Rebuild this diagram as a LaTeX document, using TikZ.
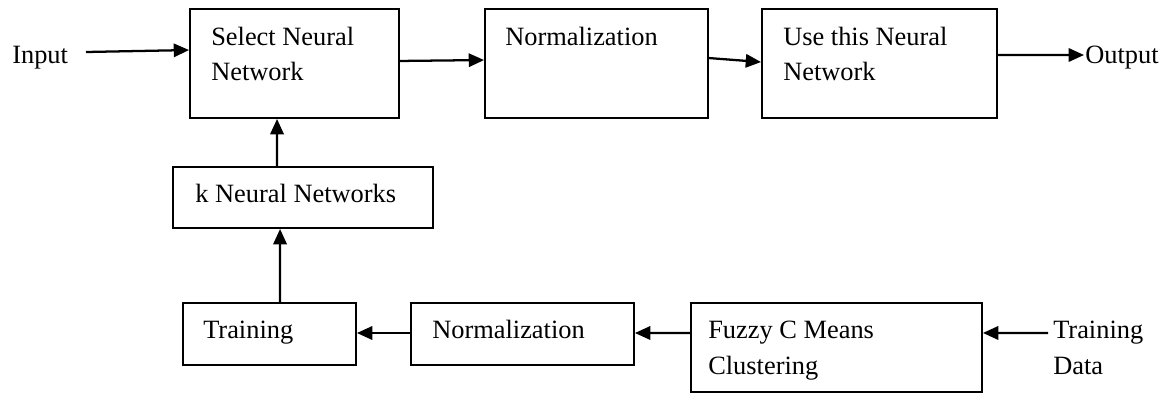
\documentclass[tikz,border=0pt]{standalone}
\usepackage{fontspec}
\setmainfont{Liberation Serif}
\usetikzlibrary{arrows.meta,fit}
\tikzset{
  box/.style={draw=black, line width=1.4pt, inner sep=0pt, rectangle},
  lbl/.style={anchor=base west, inner sep=0pt, font=\fontsize{19.8pt}{24pt}\selectfont},
  arr/.style={line width=1.7pt, -{Triangle[length=11.5pt,width=10pt]}},
}
\begin{document}
\begin{tikzpicture}[x=0.75pt,y=-0.75pt]
\useasboundingbox (0,0) rectangle (1161,394);
% boxes
\node[box, fit={(190,9) (399,118)}] (sel) {};
\node[box, fit={(485,9) (708,118)}] (nor1) {};
\node[box, fit={(762,9) (997,118)}] (use) {};
\node[box, fit={(173,167) (433,228)}] (knn) {};
\node[box, fit={(183,303) (356,365)}] (trn) {};
\node[box, fit={(411,303) (634,365)}] (nor2) {};
\node[box, fit={(691,303) (982,392)}] (fcm) {};
% texts
\node[lbl] (tsel1) at (211,45) {Select Neural};
\node[lbl] (tsel2) at (211,80) {Network};
\node[lbl] (tnor1) at (505,45) {Normalization};
\node[lbl] (tuse1) at (783,45) {Use this Neural};
\node[lbl] (tuse2) at (783,80) {Network};
\node[lbl] (tin) at (12,63) {Input};
\node[lbl] (tout) at (1085,63) {Output};
\node[lbl] (tknn) at (195,202) {k Neural Networks};
\node[lbl] (ttrn) at (203,338) {Training};
\node[lbl] (tnor2) at (432,338) {Normalization};
\node[lbl] (tfcm1) at (708,338) {Fuzzy C Means};
\node[lbl] (tfcm2) at (708,374) {Clustering};
\node[lbl] (ttd1) at (1053,338) {Training};
\node[lbl] (ttd2) at (1053,374) {Data};
% free ends
\coordinate (inS) at (86,52);
\coordinate (outE) at (1084,55);
\coordinate (tdS) at (1048,333);
% connectors
\draw[arr] (inS) -- ([yshift=10.1pt]sel.west);
\draw[arr] ([yshift=1.9pt]sel.east) -- ([yshift=2.6pt]nor1.west);
\draw[arr] ([yshift=4.1pt]nor1.east) -- ([yshift=1.1pt]use.west);
\draw[arr] ([yshift=6.4pt]use.east) -- (outE);
\draw[arr] ([xshift=-19.5pt]knn.north) -- ([xshift=-13.1pt]sel.south);
\draw[arr] ([xshift=7.9pt]trn.north) -- ([xshift=-17.2pt]knn.south);
\draw[arr] ([yshift=0.75pt]nor2.west) -- ([yshift=0.75pt]trn.east);
\draw[arr] ([yshift=10.9pt]fcm.west) -- ([yshift=0.75pt]nor2.east);
\draw[arr] (tdS) -- ([yshift=10.9pt]fcm.east);
\end{tikzpicture}
\end{document}
